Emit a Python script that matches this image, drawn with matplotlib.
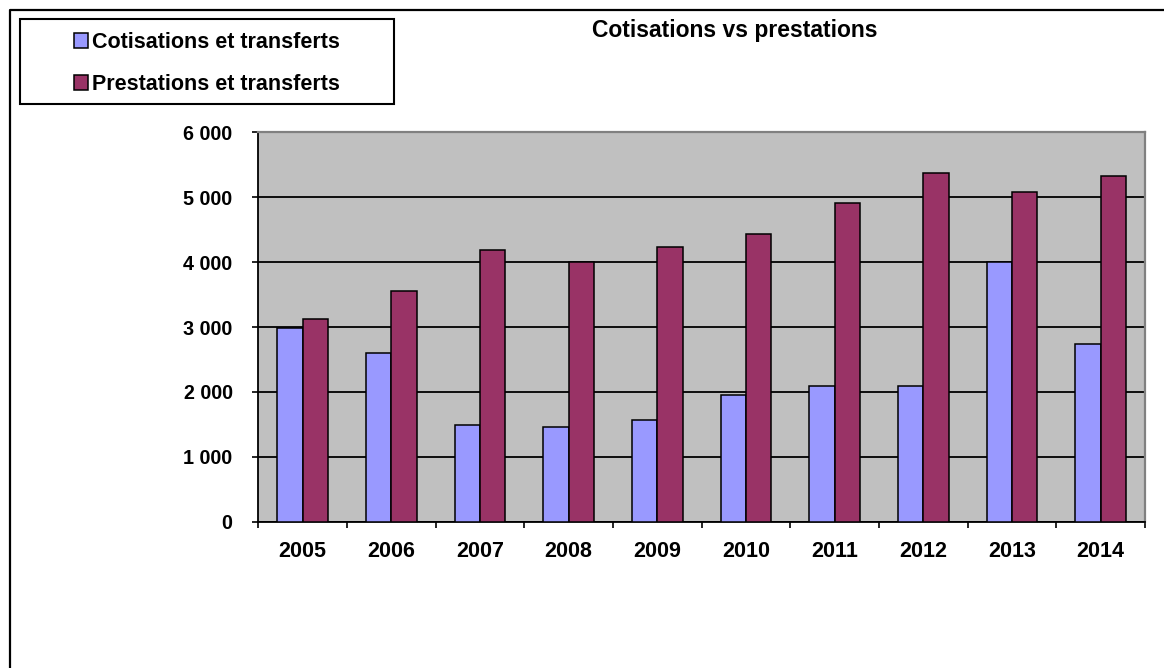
import numpy as np
from matplotlib import pyplot as plt
from matplotlib.patches import Rectangle
from matplotlib.lines import Line2D
from matplotlib.ticker import FuncFormatter

plt.rcParams['font.family'] = ['Liberation Sans', 'DejaVu Sans']
plt.rcParams['font.weight'] = 'bold'

years = ["2005", "2006", "2007", "2008", "2009", "2010", "2011", "2012", "2013", "2014"]
cotisations = [2980, 2600, 1485, 1455, 1560, 1950, 2090, 2090, 4000, 2745]
prestations = [3120, 3560, 4190, 4000, 4240, 4440, 4910, 5380, 5080, 5325]

BLUE = "#9999FF"
RED = "#993366"
W, H = 1164, 668

fig = plt.figure(figsize=(W / 100, H / 100), dpi=100)
ax = fig.add_axes([258.3 / W, 1 - 521.7 / H, (1145 - 258.3) / W, (521.7 - 132.3) / H])
ax.set_facecolor("#C0C0C0")

x = np.arange(len(years))
bw = 1 / 3.5
b1 = ax.bar(x - bw / 2, cotisations, bw, color=BLUE, edgecolor="black", linewidth=1.1, zorder=3)
b2 = ax.bar(x + bw / 2, prestations, bw, color=RED, edgecolor="black", linewidth=1.1, zorder=3)

ax.set_xlim(-0.5, len(years) - 0.5)
ax.set_ylim(0, 6000)
ax.set_yticks(np.arange(0, 6001, 1000))
ax.yaxis.set_major_formatter(FuncFormatter(lambda v, p: "{:,}".format(int(v)).replace(",", " ")))
ax.grid(axis="y", color="black", linewidth=1.3, zorder=1)

ax.set_xticks(np.arange(-0.5, len(years)), labels=[""] * (len(years) + 1))
ax.set_xticks(x, labels=years, minor=True)
ax.tick_params(axis="x", which="major", direction="out", length=4.5, width=1.2, color="black")
ax.tick_params(axis="x", which="minor", length=0, pad=14, labelsize=15.5)
ax.tick_params(axis="y", direction="out", length=4.5, width=1.2, pad=14, labelsize=14.2)

for s in ["left", "bottom"]:
    ax.spines[s].set_color("black")
    ax.spines[s].set_linewidth(1.3)
for s in ["top", "right"]:
    ax.spines[s].set_color("#808080")
    ax.spines[s].set_linewidth(1.6)

fig.text(735 / W, 1 - 31 / H, "Cotisations vs prestations", ha="center", va="center",
         fontsize=16.5, fontweight="bold")

# legend box
fig.patches.append(Rectangle((20 / W, 1 - 104 / H), 374 / W, 85 / H, transform=fig.transFigure,
                             facecolor="white", edgecolor="black", linewidth=1.5))
fig.legend([b1, b2], ["Cotisations et transferts", "Prestations et transferts"],
           loc="center", bbox_to_anchor=(207 / W, 1 - 63.5 / H), frameon=False,
           fontsize=15.5, handlelength=0.65, handleheight=0.65, handletextpad=0.15,
           labelspacing=0.98)

# outer chart border
fig.lines.append(Line2D([10 / W, 10 / W, 1], [0, 1 - 10 / H, 1 - 10 / H], transform=fig.transFigure,
                        color="black", linewidth=1.6))

plt.savefig("out.png", dpi=100)
